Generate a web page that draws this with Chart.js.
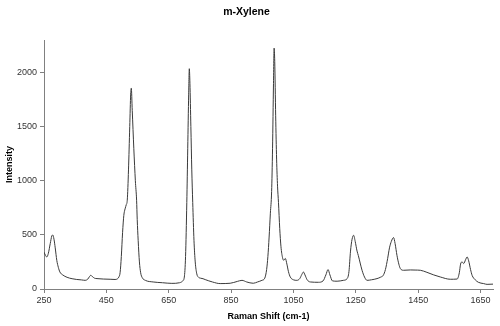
<!DOCTYPE html>
<html>
<head>
<meta charset="utf-8">
<title>m-Xylene</title>
<script src="https://cdn.jsdelivr.net/npm/chart.js@4/dist/chart.umd.min.js"></script>
<style>
  body { margin: 0; background: #fff; }
  #wrap { width: 500px; height: 326px; }
</style>
</head>
<body>
<div id="wrap"><canvas id="spectrum" width="500" height="326"></canvas></div>
<script>
// ---- Spectrum data ----
const ramanShift = [
  250, 255, 259, 264, 270, 275, 278, 282, 286, 291, 296, 301, 310, 324, 340, 355, 370, 382, 390, 396,
  400, 405, 412, 420, 440, 462, 478, 486, 490, 494, 498, 502, 506, 510, 514, 517, 521, 525, 528, 530,
  533, 538, 543, 547, 549, 552, 556, 560, 565, 575, 600, 630, 660, 685, 695, 700, 704, 708, 711, 714,
  716, 718, 721, 724, 727, 731, 735, 740, 745, 752, 760, 767, 790, 815, 847, 870, 885, 900, 921, 935,
  949, 958, 964, 968, 972, 976, 980, 983, 986, 988, 990, 993, 996, 999, 1002, 1006, 1010, 1015, 1019, 1024,
  1029, 1034, 1040, 1050, 1061, 1070, 1077, 1082, 1087, 1094, 1104, 1130, 1145, 1154, 1161, 1167, 1175, 1190, 1210, 1222,
  1228, 1233, 1238, 1243, 1248, 1254, 1258, 1264, 1270, 1278, 1286, 1300, 1318, 1330, 1338, 1345, 1352, 1358, 1364, 1371,
  1376, 1382, 1388, 1393, 1403, 1425, 1440, 1457, 1478, 1500, 1521, 1553, 1575, 1582, 1586, 1591, 1596, 1602, 1607, 1612,
  1618, 1623, 1633, 1643, 1660, 1671, 1690
];
const intensity = [
  340, 310, 296, 330, 420, 490, 499, 460, 380, 265, 200, 157, 130, 108, 95, 88, 84, 80, 90, 115,
  127, 115, 100, 96, 92, 90, 88, 95, 110, 150, 300, 520, 680, 740, 780, 820, 1100, 1500, 1800, 1855,
  1650, 1300, 1000, 820, 640, 450, 250, 150, 105, 80, 65, 58, 52, 58, 75, 110, 300, 800, 1300, 1800,
  2035, 1900, 1500, 1100, 800, 450, 250, 140, 110, 100, 95, 87, 65, 50, 53, 70, 80, 65, 53, 65,
  80, 100, 180, 300, 480, 700, 900, 1300, 1900, 2225, 2100, 1600, 1200, 950, 800, 560, 390, 290, 265, 282,
  230, 160, 110, 85, 80, 95, 135, 157, 130, 85, 65, 62, 75, 130, 179, 130, 75, 72, 80, 95,
  160, 350, 460, 496, 440, 350, 310, 240, 173, 110, 80, 85, 96, 110, 126, 180, 280, 380, 440, 475,
  420, 311, 230, 188, 173, 176, 175, 173, 154, 130, 111, 90, 92, 150, 230, 250, 235, 270, 296, 260,
  180, 126, 85, 62, 50, 43, 45
];

// ---- Axis ticks ----
const xTicks = [250, 450, 650, 850, 1050, 1250, 1450, 1650];
const yTicks = [0, 500, 1000, 1500, 2000];

const fontFamily = "'Liberation Sans', Arial, sans-serif";
const axisGray = '#808080';

const ctx = document.getElementById('spectrum').getContext('2d');
new Chart(ctx, {
  type: 'line',
  data: {
    datasets: [{
      label: 'm-Xylene',
      data: ramanShift.map((x, i) => ({ x: x, y: intensity[i] })),
      borderColor: '#3a3a3a',
      borderWidth: 1,
      pointRadius: 0,
      fill: false,
      cubicInterpolationMode: 'monotone'
    }]
  },
  options: {
    responsive: false,
    animation: false,
    layout: { padding: { left: 0, right: 7, top: 0, bottom: 0 } },
    plugins: {
      legend: { display: false },
      tooltip: { enabled: false },
      title: {
        display: true,
        text: 'm-Xylene',
        color: '#000',
        font: { family: fontFamily, size: 10.5, weight: 'bold' },
        padding: { top: 6, bottom: 21.4 }
      }
    },
    scales: {
      x: {
        type: 'linear',
        min: 250,
        max: 1690,
        afterBuildTicks: axis => { axis.ticks = xTicks.map(v => ({ value: v })); },
        afterFit: scale => { scale.height = 37; },
        border: { color: axisGray, width: 1 },
        grid: { drawOnChartArea: false, tickLength: 4, color: axisGray },
        ticks: {
          padding: 2,
          maxRotation: 0,
          autoSkip: false,
          color: '#333',
          font: { family: fontFamily, size: 9 },
          callback: value => String(value)
        },
        title: {
          display: true,
          text: 'Raman Shift (cm-1)',
          color: '#000',
          font: { family: fontFamily, size: 9, weight: 'bold' },
          padding: { top: 4, bottom: 4 }
        }
      },
      y: {
        min: 0,
        max: 2300,
        afterBuildTicks: axis => { axis.ticks = yTicks.map(v => ({ value: v })); },
        afterFit: scale => { scale.width = 44; },
        border: { color: axisGray, width: 1 },
        grid: { drawOnChartArea: false, tickLength: 4, color: axisGray },
        ticks: {
          padding: 3,
          color: '#333',
          font: { family: fontFamily, size: 9 },
          callback: value => String(value)
        },
        title: {
          display: true,
          text: 'Intensity',
          color: '#000',
          font: { family: fontFamily, size: 9, weight: 'bold' },
          padding: { top: 4, bottom: 0 }
        }
      }
    }
  }
});
</script>
</body>
</html>
